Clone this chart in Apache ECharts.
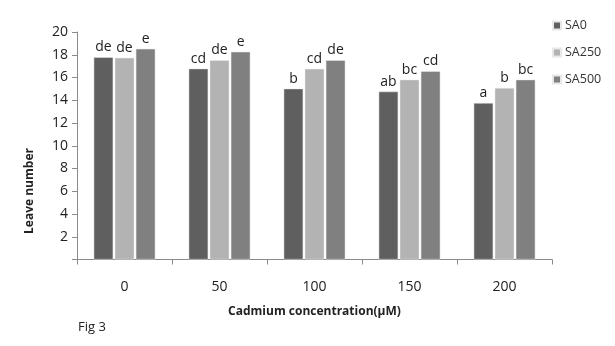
<!DOCTYPE html>
<html>
<head>
<meta charset="utf-8">
<script src="https://cdn.jsdelivr.net/npm/echarts@6/dist/echarts.min.js"></script>
<style>html,body{margin:0;padding:0;background:#fff;}#c{width:615px;height:346px;}</style>
</head>
<body>
<div id="c"></div>
<script>
const categories = ['0', '50', '100', '150', '200'];
const seriesNames = ['SA0', 'SA250', 'SA500'];
const sa0 = [17.78, 16.78, 15.02, 14.76, 13.76];
const sa250 = [17.73, 17.52, 16.76, 15.81, 15.08];
const sa500 = [18.52, 18.26, 17.52, 16.55, 15.81];
const sa0Letters = ['de', 'cd', 'b', 'ab', 'a'];
const sa250Letters = ['de', 'de', 'cd', 'bc', 'b'];
const sa500Letters = ['e', 'e', 'de', 'cd', 'bc'];
const yTicks = [0, 2, 4, 6, 8, 10, 12, 14, 16, 18, 20];

const colors = ['#5f5f5f', '#b3b3b3', '#808080'];
const font = '"Open Sans", "Liberation Sans", sans-serif';

function mk(name, data, letters, color) {
  return {
    name: name,
    type: 'bar',
    data: data,
    barWidth: 19.5,
    barGap: '8%',
    itemStyle: { color: color, borderColor: '#e8e8e8', borderWidth: 0.5 },
    label: {
      show: true,
      position: 'top',
      distance: 3,
      color: '#222',
      fontSize: 14,
      fontFamily: font,
      formatter: p => letters[p.dataIndex]
    }
  };
}

const chart = echarts.init(document.getElementById('c'));
chart.setOption({
  animation: false,
  backgroundColor: '#fff',
  color: colors,
  grid: { left: 77, right: 63, top: 32, bottom: 86.5, containLabel: false },
  legend: {
    orient: 'vertical',
    left: 547,
    top: 14,
    itemWidth: 8,
    itemHeight: 8,
    itemGap: 14,
    icon: 'rect',
    textStyle: { fontFamily: font, fontSize: 12.5, color: '#333', padding: [0, 0, 0, -1] },
    data: seriesNames
  },
  xAxis: {
    type: 'category',
    data: categories,
    axisLine: { lineStyle: { color: '#8a8a8a', width: 1 } },
    axisTick: { show: true, length: 5, alignWithLabel: false, lineStyle: { color: '#8a8a8a' } },
    axisLabel: { fontFamily: font, fontSize: 14, color: '#222', margin: 21 },
    name: 'Cadmium concentration(μM)',
    nameLocation: 'middle',
    nameGap: 46,
    nameTextStyle: { fontFamily: font, fontSize: 12, fontWeight: 'bold', color: '#222' }
  },
  yAxis: {
    type: 'value',
    min: 0,
    max: 20,
    interval: 2,
    axisLine: { show: true, lineStyle: { color: '#8a8a8a', width: 1 } },
    axisTick: { show: true, inside: false, length: 5, lineStyle: { color: '#8a8a8a' } },
    splitLine: { show: false },
    axisLabel: {
      fontFamily: font, fontSize: 14, color: '#222', margin: 9,
      formatter: v => (yTicks.indexOf(v) > 0 ? String(v) : '')
    }
  },
  graphic: [
    {
      type: 'text',
      x: 30, y: 191,
      rotation: Math.PI / 2,
      style: {
        text: 'Leave number',
        font: 'bold 12px "Open Sans", sans-serif',
        fill: '#222',
        textAlign: 'center',
        textVerticalAlign: 'middle'
      }
    },
    {
      type: 'text',
      left: 78, top: 321,
      style: { text: 'Fig 3', font: '13px "Open Sans", sans-serif', fill: '#222' }
    }
  ],
  series: [
    mk(seriesNames[0], sa0, sa0Letters, colors[0]),
    mk(seriesNames[1], sa250, sa250Letters, colors[1]),
    mk(seriesNames[2], sa500, sa500Letters, colors[2])
  ]
});
</script>
</body>
</html>
